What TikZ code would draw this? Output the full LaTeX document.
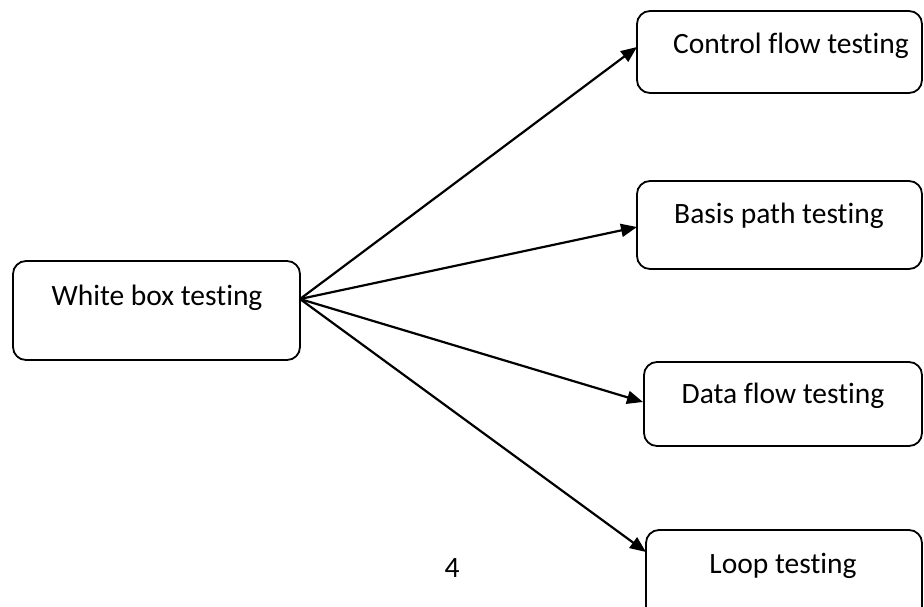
\documentclass[tikz,border=0pt]{standalone}
\usepackage{fontspec}
\setmainfont[Ligatures=NoCommon]{Carlito}
\usetikzlibrary{arrows.meta}
\begin{document}
\begin{tikzpicture}[x=1pt,y=-1pt,
  box/.style={draw=black, line width=1.8pt, rounded corners=13pt, minimum width=#1, inner sep=0pt},
  lbl/.style={anchor=base, inner sep=0pt, font=\fontsize{29.5}{34}\selectfont},
  arr/.style={line width=2.2pt, -{Triangle[length=16pt,width=13pt]}}]
\clip (0,0) rectangle (924,606);
\fill[white] (0,0) rectangle (924,606);
\node[box=287pt, minimum height=99pt] (wb) at (156.5,310.5) {};
\node[box=285pt, minimum height=82pt] (cf) at (779.5,52) {};
\node[box=285pt, minimum height=88pt] (bp) at (779.5,225) {};
\node[box=278pt, minimum height=84pt] (df) at (783,404) {};
\node[box=276pt, minimum height=90pt] (lt) at (784,575) {};
\node[lbl] (wbt) at (157,305) {White box testing};
\node[lbl] (cft) at (791,53) {Control flow testing};
\node[lbl] (bpt) at (779,223) {Basis path testing};
\node[lbl] (dft) at (783,403) {Data flow testing};
\node[lbl] (ltt) at (783,573) {Loop testing};
\node[lbl] (pg) at (452,577) {4};
\coordinate (s) at (300,299);
\coordinate (e1) at (637,47);
\coordinate (e2) at (637,227);
\coordinate (e3) at (643,402);
\coordinate (e4) at (646,552);
\draw[arr] (s) -- (e1);
\draw[arr] (s) -- (e2);
\draw[arr] (s) -- (e3);
\draw[arr] (s) -- (e4);
\end{tikzpicture}
\end{document}
